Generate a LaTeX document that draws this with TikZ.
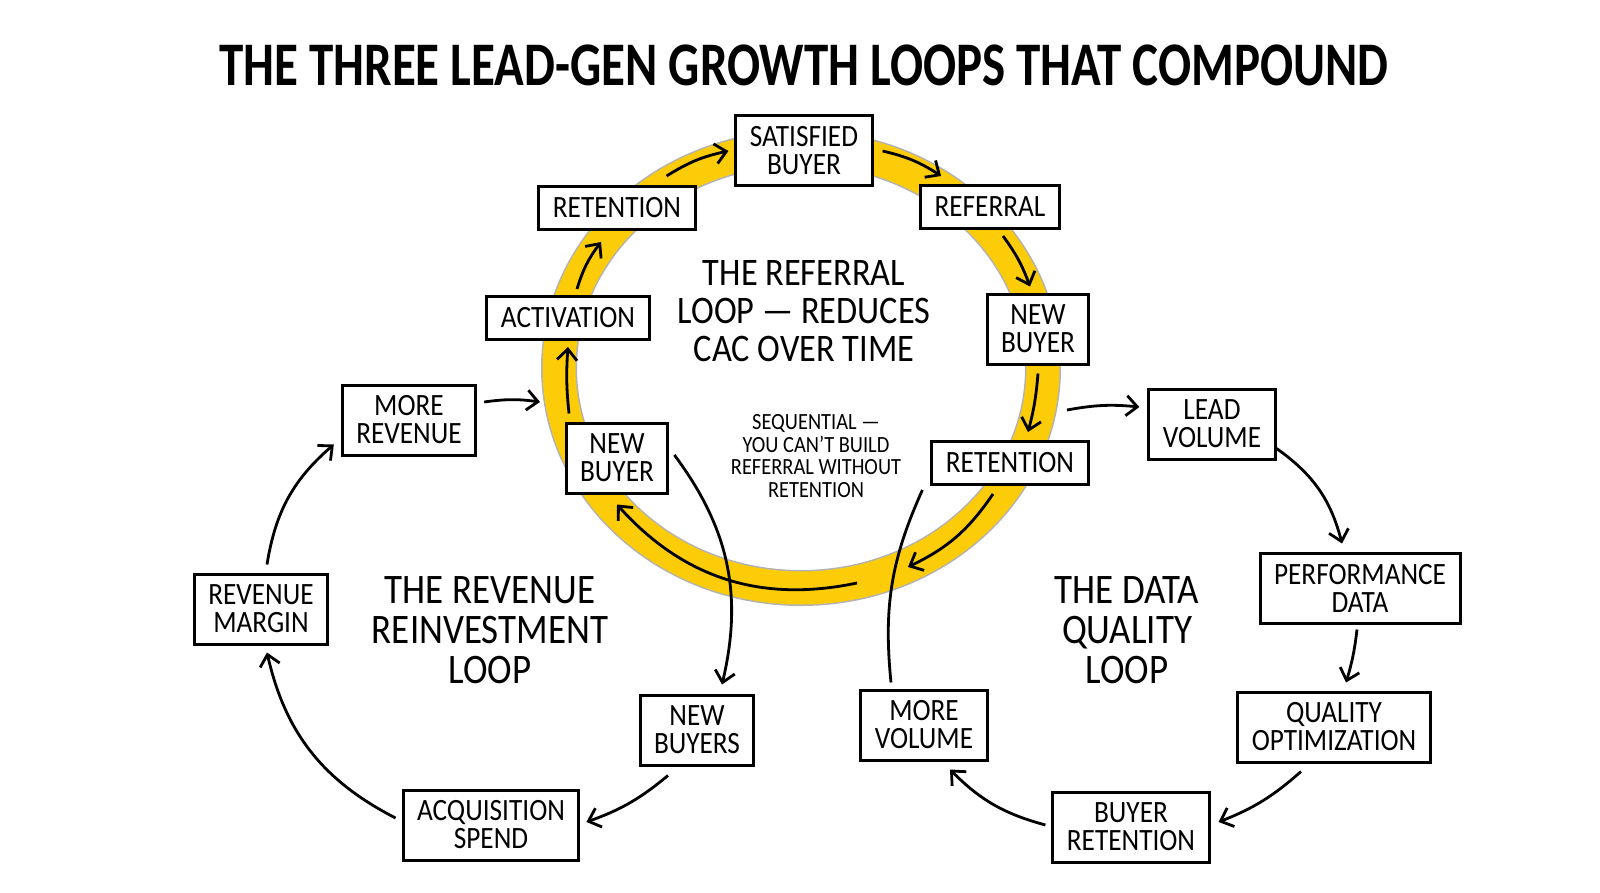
\documentclass[tikz,border=0pt]{standalone}
\usepackage{fontspec}
\setmainfont{Carlito}[FakeStretch=0.88]
\newfontfamily\titlefont{Carlito}[FakeStretch=0.79]
\usetikzlibrary{arrows.meta}
\definecolor{ringyellow}{RGB}{252,204,8}

\begin{document}
\begin{tikzpicture}[x=0.5pt, y=-0.5pt]
        \tikzstyle{stage}=[draw,fill=white,line width=1.5pt,align=center,inner xsep=7pt,inner ysep=2pt,minimum height=21.5pt,font=\fontsize{15.5}{14}\selectfont]
        \tikzstyle{stage2}=[stage,minimum height=35pt]
        \tikzstyle{flow}=[-{Straight Barb[length=5.5pt,width=10pt]},line width=1.4pt]
        \tikzstyle{loopname}=[align=center,font=\fontsize{21}{20}\selectfont]

        \fill[white] (0,0) rectangle (1600,893);

        \node (T) at (804,65) {\titlefont\bfseries\fontsize{31}{31}\selectfont THE THREE LEAD-GEN GROWTH LOOPS THAT COMPOUND};

        \draw[gray!60,line width=18pt] (801,368) ellipse [x radius=242, y radius=220];
        \draw[ringyellow,line width=16.5pt] (801,368) ellipse [x radius=242, y radius=220];

        \node[stage2] (R_1) at (804,151) {SATISFIED\\BUYER};
        \node[stage] (R_2) at (990,207) {REFERRAL};
        \node[stage2] (R_3) at (1038,329) {NEW\\BUYER};
        \node[stage] (R_4) at (1010,463) {RETENTION};
        \node[stage2] (R_5) at (617,458) {NEW\\BUYER};
        \node[stage] (R_6) at (568,318) {ACTIVATION};
        \node[stage] (R_7) at (617,208) {RETENTION};
        \coordinate (R_a) at (908,567);
        \coordinate (R_b) at (857,583);

        \node[align=center,font=\fontsize{19.5}{19}\selectfont] (L_1) at (804,311) {THE REFERRAL\\LOOP — REDUCES\\CAC OVER TIME};
        \node[align=center,font=\fontsize{11.6}{11.3}\selectfont] (L_2) at (816,456) {SEQUENTIAL —\\YOU CAN’T BUILD\\REFERRAL WITHOUT\\RETENTION};

        \draw[flow] ([xshift=-15pt,yshift=4.5pt]R_7.north east) to[bend left=10] ([xshift=-3pt]R_1.west);
        \draw[flow] ([xshift=4.5pt]R_1.east) to[bend left=10] ([xshift=11pt,yshift=4pt]R_2.north west);
        \draw[flow] ([xshift=6.5pt,yshift=-3pt]R_2.south) to[bend left=8] ([xshift=-4pt,yshift=3pt]R_3.north);
        \draw[flow] ([yshift=-4pt]R_3.south) to[bend left=5] ([xshift=9pt,yshift=4pt]R_4.north);
        \draw[flow] ([xshift=-8.5pt,yshift=-4pt]R_4.south) to[bend left=15] (R_a);
        \draw[flow] (R_b) to[bend left=30] ([yshift=-5pt]R_5.south);
        \draw[flow] ([xshift=-24pt,yshift=4pt]R_5.north) to[bend left=5] ([yshift=-3pt]R_6.south);
        \draw[flow] ([xshift=4.5pt,yshift=3pt]R_6.north) to[bend left=10] ([xshift=-8pt,yshift=-5.5pt]R_7.south);

        \node[stage2] (V_1) at (409,420) {MORE\\REVENUE};
        \node[stage2] (V_2) at (261,609) {REVENUE\\MARGIN};
        \node[stage2] (V_3) at (491,825) {ACQUISITION\\SPEND};
        \node[stage2] (V_4) at (697,730) {NEW\\BUYERS};
        \coordinate (V_0) at (540,402);
        \node[loopname] (L_3) at (490,630) {THE REVENUE\\REINVESTMENT\\LOOP};

        \draw[flow] ([xshift=3.5pt,yshift=9pt]V_1.east) to[bend left=8] (V_0);
        \draw[flow] ([xshift=3pt,yshift=4pt]V_2.north) to[bend left=20] ([xshift=-3.5pt,yshift=6pt]V_1.south west);
        \draw[flow] ([xshift=-3pt,yshift=3.5pt]V_3.west) to[bend left=25] ([xshift=3pt,yshift=-3.5pt]V_2.south);
        \draw[flow] ([xshift=-14.5pt,yshift=-4.5pt]V_4.south) to[bend left=10] ([xshift=3pt,yshift=1.5pt]V_3.east);
        \draw[flow] ([xshift=2.5pt,yshift=1.5pt]R_5.east) to[bend left=25] ([xshift=12.5pt,yshift=4.5pt]V_4.north);

        \node[stage2] (D_1) at (1212,424) {LEAD\\VOLUME};
        \node[stage2] (D_2) at (1360,588) {PERFORMANCE\\DATA};
        \node[stage2] (D_3) at (1334,727) {QUALITY\\OPTIMIZATION};
        \node[stage2] (D_4) at (1131,827) {BUYER\\RETENTION};
        \node[stage2] (D_5) at (924,725) {MORE\\VOLUME};
        \coordinate (D_0) at (1067,410);
        \node[loopname] (L_4) at (1127,630) {THE DATA\\QUALITY\\LOOP};

        \draw[flow] (D_0) to[bend left=8] ([xshift=-4pt,yshift=8.5pt]D_1.west);
        \draw[flow] ([yshift=6pt]D_1.south east) to[bend left=20] ([xshift=-9pt,yshift=4pt]D_2.north);
        \draw[flow] ([xshift=-1.5pt,yshift=-2.5pt]D_2.south) to[bend left=5] ([xshift=6pt,yshift=4pt]D_3.north);
        \draw[flow] ([xshift=-16.5pt,yshift=-4pt]D_3.south) to[bend left=10] ([xshift=4pt,yshift=2.5pt]D_4.east);
        \draw[flow] ([xshift=-3pt,yshift=1pt]D_4.west) to[bend left=15] ([xshift=13pt,yshift=-4pt]D_5.south);
        \draw[line width=1.4pt] ([xshift=-16.5pt,yshift=3pt]D_5.north) to[bend left=15] ([xshift=-4pt,yshift=-2pt]R_4.south west);
    \end{tikzpicture}
\end{document}
